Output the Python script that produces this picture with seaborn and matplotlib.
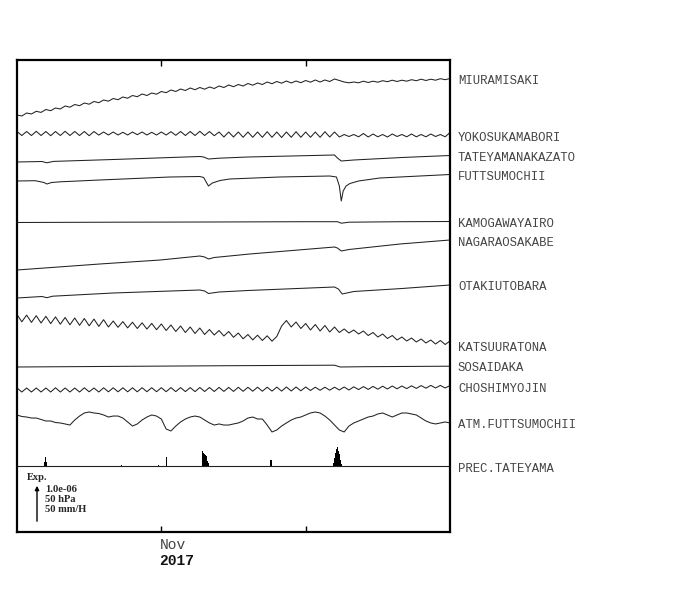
import numpy as np
import pandas as pd
import matplotlib.pyplot as plt
import matplotlib.dates as mdates
import seaborn as sns

sns.set_style('white')
plt.rcParams['font.family'] = ['Liberation Mono', 'DejaVu Sans']

start = pd.Timestamp('2017-10-17')
end = pd.Timestamp('2017-12-01')

# 12-hourly samples (days after start) for the oscillating records
t_half = np.arange(91) * 0.5

# strain records, display units (1 unit ~ 2.2e-8), up = extension
miuramisaki = [1, 0, 3, 2, 4.7, 3.6, 6.5, 5.3, 8, 7,
               10, 8.8, 11.5, 10.3, 13, 11.8, 14.5, 13.3, 16, 14.8,
               17.5, 16.3, 19, 17.8, 20.5, 19.3, 22, 20.5, 23, 21.8,
               24.5, 23.3, 26, 24.5, 27, 25.5, 28, 26.3, 28.5, 26.8,
               29, 27.5, 30, 28.5, 31, 29.3, 31.5, 30, 32.5, 30.8,
               33, 31.5, 34, 32.3, 34.5, 32.8, 35, 33, 35, 33.3,
               35.5, 33.8, 36, 34, 36, 34.5, 37, 35.5, 34, 33.2,
               34, 33.2, 34.8, 33.5, 34.8, 33.8, 35.3, 34.3, 35.8, 34.5,
               35.8, 34.8, 36.3, 35.3, 36.8, 35.5, 36.8, 35.8, 37.3, 36.3,
               37.5]

yokosukamabori = [2, -2, 2, -2, 2.2, -2, 2, -2.2, 2, -2,
                  2.2, -2, 2, -2, 2, -2.2, 2, -1.6, 1.5, -1.5,
                  1.5, -1.5, 1.2, -1.5, 1.5, -1.2, 1.5, -1.5, 1.2, -1.5,
                  1.5, -1.5, 1.8, -1.8, 2, -2, 2, -2, 2.2, -2,
                  2, -2.2, 1.5, -3.5, 1.5, -3.5, 1.5, -3.8, 1.5, -3.8,
                  1.5, -3.8, 1.8, -3.8, 1.5, -4, 1.5, -3.8, 1.8, -3.8,
                  1.5, -3.8, 1.5, -3.8, 1.8, -3.5, 1.5, -3.5, -1, -3,
                  -1, -3.3, 0, -3.5, -0.5, -3.3, -1, -3.5, -0.5, -3,
                  -1, -3.3, -0.5, -3.3, -1, -3.3, -0.5, -3, -1, -3.3,
                  1]

katsuuratona = [3.5, -3.8, 2.9, -4.4, 2.3, -5, 1.7, -5.6, 1.1, -6.2,
                0.5, -6.8, 0, -7.3, -0.5, -7.8, -1.1, -8.4, -1.7, -9,
                -3, -9.3, -3.6, -9.9, -4.2, -10.5, -4.8, -11.1, -5.4, -11.7,
                -6, -12.5, -7, -13.5, -8, -14.5, -9, -15.5, -10, -16.5,
                -11.5, -17, -12.5, -18, -13.5, -19.3, -15, -20.8, -16.5, -21.9,
                -17.2, -22.5, -17.8, -23.2, -18.5, -8, -2.5, -9, -4, -10.5,
                -5.5, -12, -6.5, -13, -7.5, -14, -9, -14.5, -11, -15,
                -12, -16, -13, -17.5, -14.5, -19, -16, -20.5, -17.5, -22,
                -19, -23, -20, -24, -21, -25, -22, -26, -22.5, -26.5,
                -23]

choshimyojin = [2, -2, 2, -2, 2, -2, 2, -2, 2.2, -2,
                2, -2, 2, -2, 2.2, -1.8, 2, -2, 2.2, -1.8,
                2.2, -1.8, 2.2, -1.8, 2.2, -1.8, 2.3, -1.7, 2.3, -1.7,
                2.3, -1.7, 2.4, -1.6, 2.4, -1.6, 2.4, -1.6, 2.5, -1.5,
                2.5, -1.5, 2.6, -1.4, 2.6, -1.4, 2.7, -1.3, 2.7, -1.2,
                2.8, -1.2, 2.8, -1.1, 2.9, -1.1, 3, -1, 3, -0.8,
                3, -0.5, 2.8, -0.3, 2.8, -0.2, 2.8, 0, 3, 0,
                3.2, 0.4, 3.4, 0.6, 3.6, 0.8, 3.8, 1, 4, 1.2,
                4, 1.4, 4.2, 1.6, 4.4, 1.8, 4.6, 2, 4.6, 2,
                4.5]

# smoother records, sampled at their own times (days after start)
tateyama_t = [0, 2.6, 3.1, 3.8, 10, 19.0, 19.4, 19.9, 21, 24, 33.0, 33.3, 33.7, 35, 40, 45]
tateyama_v = [0, 0.5, -0.8, 0.6, 2.5, 5.5, 5, 3, 3.8, 5, 7, 4, 1, 2, 4.5, 6.5]

futtsu_t = [0, 1.9, 2.8, 3.1, 3.6, 4.5, 8.6, 15.9, 19.0, 19.4, 19.9, 20.3, 21.1, 22.1,
            27.3, 32.5, 33.2, 33.5, 33.7, 33.9, 34.2, 34.6, 35.5, 37.7, 45]
futtsu_v = [0, 0.3, -1.5, -3, -1.5, -0.8, 1, 4, 4.5, 3.5, -5, -2, 0.5, 2,
            4, 5, 4, -5, -20, -10, -5, -2.5, 0, 3, 6.5]

kamogawa_t = [0, 10, 20, 30, 33.3, 33.7, 34.5, 40, 45]
kamogawa_v = [0, 0.3, 0.5, 0.8, 0.8, -0.7, 0.3, 0.8, 1]

nagara_t = [0, 8.6, 14.9, 19.0, 19.5, 19.9, 20.5, 24.2, 33.0, 33.3, 33.7, 34.5, 39.8, 45]
nagara_v = [0, 6, 10, 14, 13, 11, 12.5, 16, 23, 22, 19, 20.5, 26, 30]

otaki_t = [0, 2.6, 3.1, 3.7, 10, 19.0, 19.5, 19.9, 21, 24, 33.0, 33.4, 33.8, 35, 40, 45]
otaki_v = [0, 1.5, 0.3, 1.8, 5, 8, 7, 4.5, 6, 7.5, 11, 9, 4, 6.5, 9.5, 13]

sosai_t = [0, 10, 22, 33.0, 33.6, 36, 45]
sosai_v = [0, 0.6, 1.3, 1.8, 0, 0.3, 0.8]

# atmospheric pressure, hPa (12-hourly)
atm_hpa = [1025.6, 1023.9, 1023.3, 1022.2, 1022.2, 1020.6, 1018.9, 1018.9, 1017.2, 1016.7,
           1015.6, 1014.4, 1020.0, 1024.4, 1027.8, 1028.9, 1027.8, 1027.2, 1025.6, 1023.3,
           1024.4, 1024.4, 1022.2, 1017.8, 1013.3, 1015.6, 1020.0, 1023.3, 1025.6, 1024.4,
           1021.1, 1010.0, 1007.8, 1013.3, 1017.8, 1021.1, 1023.3, 1024.4, 1023.3, 1020.0,
           1016.7, 1014.4, 1015.6, 1014.4, 1014.4, 1015.6, 1016.7, 1018.9, 1022.2, 1023.3,
           1021.1, 1021.1, 1014.4, 1006.7, 1008.9, 1013.3, 1016.7, 1020.0, 1022.2, 1023.3,
           1025.6, 1027.8, 1028.9, 1027.8, 1024.4, 1020.0, 1014.4, 1008.9, 1006.7, 1013.3,
           1016.7, 1018.9, 1021.1, 1023.3, 1024.4, 1026.7, 1027.8, 1025.6, 1023.3, 1025.6,
           1027.8, 1027.8, 1026.7, 1025.6, 1022.2, 1018.9, 1016.7, 1015.6, 1016.7, 1017.8,
           1016.7]

# precipitation, mm/H
prec_t = [2.9, 3.0, 3.1, 10.9, 14.7, 15.5,
          19.3, 19.4, 19.5, 19.6, 19.7, 19.8, 19.9, 26.4,
          32.9, 33.0, 33.1, 33.2, 33.3, 33.4, 33.5, 33.6, 33.7]
prec_mm = [4, 10, 5, 1, 1, 9.5,
           17, 15, 13, 12, 11, 6, 3, 7,
           3, 9, 14, 19, 21, 17, 13, 7, 2]

names = ['MIURAMISAKI', 'YOKOSUKAMABORI', 'TATEYAMANAKAZATO', 'FUTTSUMOCHII',
         'KAMOGAWAYAIRO', 'NAGARAOSAKABE', 'OTAKIUTOBARA', 'KATSUURATONA',
         'SOSAIDAKA', 'CHOSHIMYOJIN', 'ATM.FUTTSUMOCHII', 'PREC.TATEYAMA']

# layout (figure pixels, y down)
base_y = [116, 133.5, 162, 181, 222.5, 270, 298, 318, 367, 390, 420, 466]
label_y = [81, 138, 158, 177, 224, 243, 287, 348, 368, 389, 425, 469]
HPA_PX = 45 / 50
MM_PX = 45 / 50
LINE = '#222222'
TXT = '#444444'


def to_dates(days):
    return start + pd.to_timedelta(np.asarray(days, dtype=float), unit='D')


records = [
    (t_half, miuramisaki), (t_half, yokosukamabori), (tateyama_t, tateyama_v),
    (futtsu_t, futtsu_v), (kamogawa_t, kamogawa_v), (nagara_t, nagara_v),
    (otaki_t, otaki_v), (t_half, katsuuratona), (sosai_t, sosai_v),
    (t_half, choshimyojin),
]

fig = plt.figure(figsize=(7, 5.9), dpi=100)
ax = fig.add_axes([17 / 700, 58 / 590, 433 / 700, 472 / 590])

for i, (t, v) in enumerate(records):
    sns.lineplot(x=to_dates(t), y=base_y[i] - np.asarray(v, dtype=float),
                 ax=ax, color=LINE, linewidth=0.75, estimator=None)

atm_y = base_y[10] - (np.asarray(atm_hpa) - 1020.0) * HPA_PX
sns.lineplot(x=to_dates(t_half), y=atm_y, ax=ax, color=LINE, linewidth=0.75, estimator=None)

ax.axhline(base_y[11], color=LINE, linewidth=0.8)
ax.bar(to_dates(prec_t), -np.asarray(prec_mm) * MM_PX, bottom=base_y[11],
       width=0.11, color='black', linewidth=0)

ax.set_xlim(start, end)
ax.set_ylim(532, 60)
ax.set_yticks([])
ax.set_xticks([pd.Timestamp('2017-11-01'), pd.Timestamp('2017-11-16')])
ax.set_xticklabels(['', ''])
ax.tick_params(axis='x', direction='in', length=4, width=1, top=True, bottom=True, color='black')
for s in ax.spines.values():
    s.set_color('black')
    s.set_linewidth(1.6)
ax.set_xlabel('')
ax.set_ylabel('')

ytr = ax.get_yaxis_transform()
for name, ly in zip(names, label_y):
    ax.text(1 + 8 / 433, ly, name, transform=ytr, ha='left', va='center',
            fontsize=8.8, color=TXT, family='Liberation Mono')

xtr = ax.get_xaxis_transform()
nov = mdates.date2num(pd.Timestamp('2017-11-01')) - 0.2
ax.text(nov, -13 / 472, 'Nov', transform=xtr, ha='left', va='center',
        fontsize=10.5, color=TXT, family='Liberation Mono')
ax.text(nov, -29 / 472, '2017', transform=xtr, ha='left', va='center',
        fontsize=10.5, fontweight='bold', color='#111111', family='Liberation Mono')


# scale legend
def fx(px):
    return px / 700


def fy(py):
    return 1 - py / 590


fig.text(fx(27), fy(478), 'Exp.', ha='left', va='center', fontsize=7.5,
         fontweight='bold', family='Liberation Serif')
for txt, py in zip(['1.0e-06', '50 hPa', '50 mm/H'], [489, 499.5, 510]):
    fig.text(fx(45), fy(py), txt, ha='left', va='center', fontsize=7.6,
             fontweight='bold', family='Liberation Serif')
ax.annotate('', xy=(fx(37), fy(483)), xytext=(fx(37), fy(524)),
            xycoords='figure fraction', textcoords='figure fraction',
            arrowprops=dict(arrowstyle='-|>', color='black', lw=1, mutation_scale=6))

fig.savefig('out.png', dpi=100, facecolor='white')
